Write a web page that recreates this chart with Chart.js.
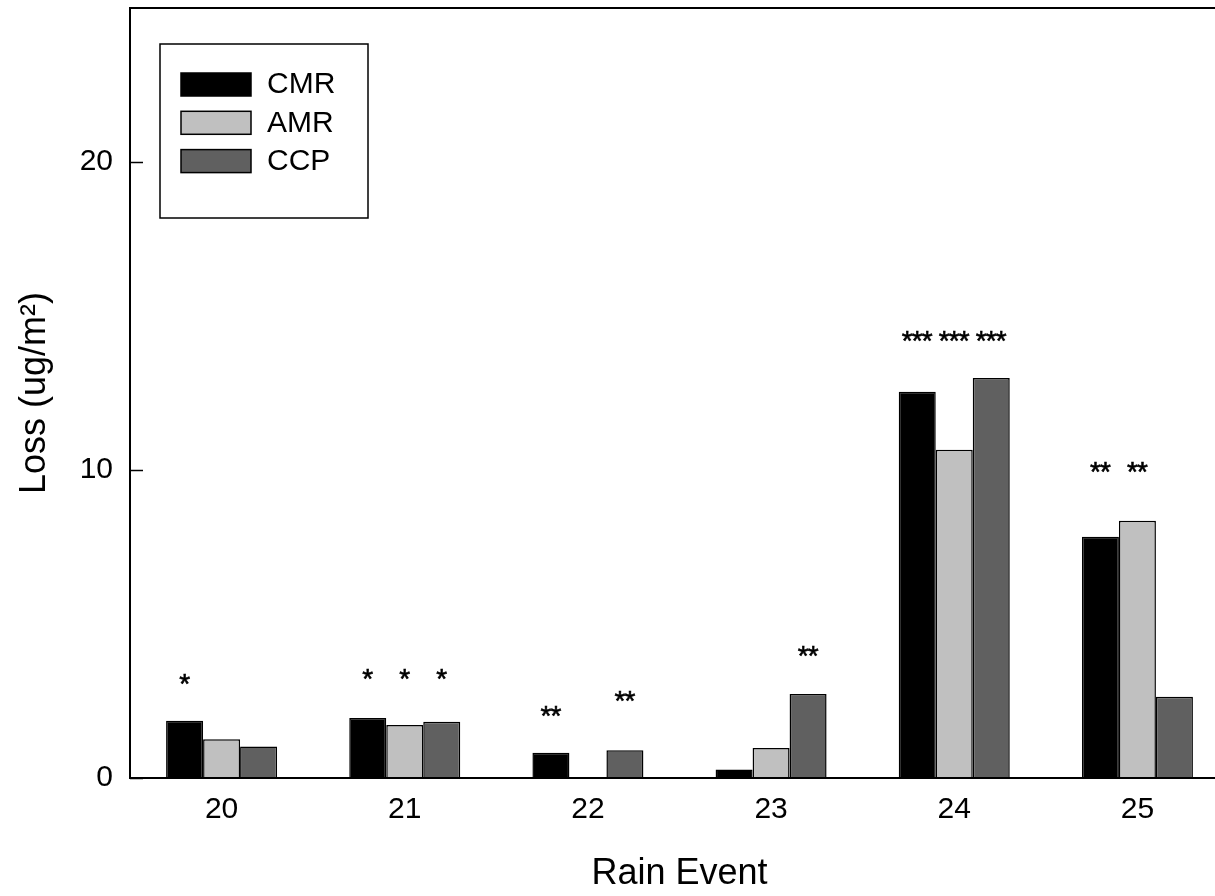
<!DOCTYPE html>
<html>
<head>
<meta charset="utf-8">
<script src="https://cdn.jsdelivr.net/npm/chart.js@4"></script>
<style>
  body { margin: 0; background: #fff; overflow: hidden; }
  #wrap { width: 1215px; height: 896px; overflow: hidden; }
</style>
</head>
<body>
<div id="wrap"><canvas id="lossChart" width="1230" height="896"></canvas></div>
<script>
// data
const events = ['20', '21', '22', '23', '24', '25'];
const cmr = [1.86, 1.95, 0.82, 0.28, 12.54, 7.83];
const amr = [1.26, 1.72, 0, 0.97, 10.66, 8.35];
const ccp = [1.02, 1.83, 0.90, 2.73, 12.99, 2.64];
const yTicks = [0, 10, 20];

// significance marks and the level (in ug/m2) where they sit
const cmrStars = ['*', '*', '**', '', '***', '**'];
const amrStars = ['', '*', '', '', '***', '**'];
const ccpStars = ['', '*', '**', '**', '***', ''];
const cmrStarLevel = [3.21, 3.39, 2.18, null, 14.36, 10.10];
const amrStarLevel = [null, 3.39, null, null, 14.36, 10.10];
const ccpStarLevel = [null, 3.39, 2.65, 4.11, 14.36, null];

const FONT = '"Liberation Sans", Arial, Helvetica, sans-serif';

// frame, inward y ticks, stars and boxed legend
const decorations = {
    id: 'decorations',
    afterDatasetsDraw(chart) {
        const ctx = chart.ctx;
        const area = chart.chartArea;
        const y = chart.scales.y;
        ctx.save();

        // significance asterisks, drawn one by one so groups stay apart
        const stars = [cmrStars, amrStars, ccpStars];
        const levels = [cmrStarLevel, amrStarLevel, ccpStarLevel];
        ctx.fillStyle = '#000';
        ctx.font = '28px ' + FONT;
        ctx.textAlign = 'center';
        ctx.textBaseline = 'alphabetic';
        ctx.strokeStyle = '#000';
        ctx.lineWidth = 0.6;
        const pitch = 10;
        stars.forEach((row, i) => {
            const meta = chart.getDatasetMeta(i);
            row.forEach((s, j) => {
                if (!s || levels[i][j] == null) return;
                const px = meta.data[j].x;
                const py = y.getPixelForValue(levels[i][j]) + 14;
                for (let k = 0; k < s.length; k++) {
                    const sx = px + (k - (s.length - 1) / 2) * pitch;
                    ctx.fillText('*', sx, py);
                    ctx.strokeText('*', sx, py);
                }
            });
        });

        // frame
        ctx.strokeStyle = '#000';
        ctx.lineWidth = 2;
        ctx.strokeRect(area.left, area.top, area.right - area.left, area.bottom - area.top);

        // inward ticks
        ctx.lineWidth = 1.5;
        yTicks.forEach(v => {
            const py = Math.round(y.getPixelForValue(v)) + 0.5;
            ctx.beginPath();
            ctx.moveTo(area.left, py);
            ctx.lineTo(area.left + 13, py);
            ctx.stroke();
        });

        // legend box
        const bx = area.left + 30, by = area.top + 36;
        ctx.fillStyle = '#fff';
        ctx.fillRect(bx, by, 208, 174);
        ctx.lineWidth = 1.5;
        ctx.strokeRect(bx, by, 208, 174);
        ctx.font = '30px ' + FONT;
        ctx.textAlign = 'left';
        ctx.textBaseline = 'middle';
        chart.data.datasets.forEach((ds, i) => {
            const sy = by + 29 + i * 38.3;
            ctx.fillStyle = ds.backgroundColor;
            ctx.fillRect(bx + 21, sy, 70, 23);
            ctx.lineWidth = 1.5;
            ctx.strokeStyle = '#000';
            ctx.strokeRect(bx + 21, sy, 70, 23);
            ctx.fillStyle = '#000';
            ctx.fillText(ds.label, bx + 107, sy + 12);
        });
        ctx.restore();
    }
};

const ctx = document.getElementById('lossChart').getContext('2d');
const lossChart = new Chart(ctx, {
    type: 'bar',
    data: {
        labels: events,
        datasets: [
            { label: 'CMR', data: cmr, backgroundColor: '#000000' },
            { label: 'AMR', data: amr, backgroundColor: '#c0c0c0' },
            { label: 'CCP', data: ccp, backgroundColor: '#606060' }
        ]
    },
    options: {
        responsive: false,
        animation: false,
        events: [],
        layout: { padding: { top: 8, right: 1, left: 0, bottom: 0 } },
        datasets: {
            bar: {
                borderColor: '#000',
                borderWidth: 1.5,
                categoryPercentage: 0.606,
                barPercentage: 1.0
            }
        },
        plugins: {
            legend: { display: false },
            tooltip: { enabled: false }
        },
        scales: {
            x: {
                grid: { display: false, drawTicks: false },
                border: { display: false },
                ticks: { color: '#000', font: { family: FONT, size: 30 }, padding: 14 },
                title: {
                    display: true,
                    text: 'Rain Event',
                    color: '#000',
                    font: { family: FONT, size: 36 },
                    padding: { top: 0, bottom: 0 }
                },
                afterFit(scale) { scale.height = 118; scale.paddingLeft = 0; scale.paddingRight = 0; }
            },
            y: {
                min: 0,
                max: 25,
                grid: { display: false, drawTicks: false },
                border: { display: false },
                afterBuildTicks(scale) { scale.ticks = yTicks.map(v => ({ value: v })); },
                ticks: { color: '#000', font: { family: FONT, size: 30 }, padding: 17 },
                title: {
                    display: true,
                    text: 'Loss (ug/m²)',
                    color: '#000',
                    font: { family: FONT, size: 36 },
                    padding: { top: 13, bottom: 0 }
                },
                afterFit(scale) { scale.width = 130; scale.paddingTop = 0; scale.paddingBottom = 0; }
            }
        }
    },
    plugins: [decorations]
});
</script>
</body>
</html>
